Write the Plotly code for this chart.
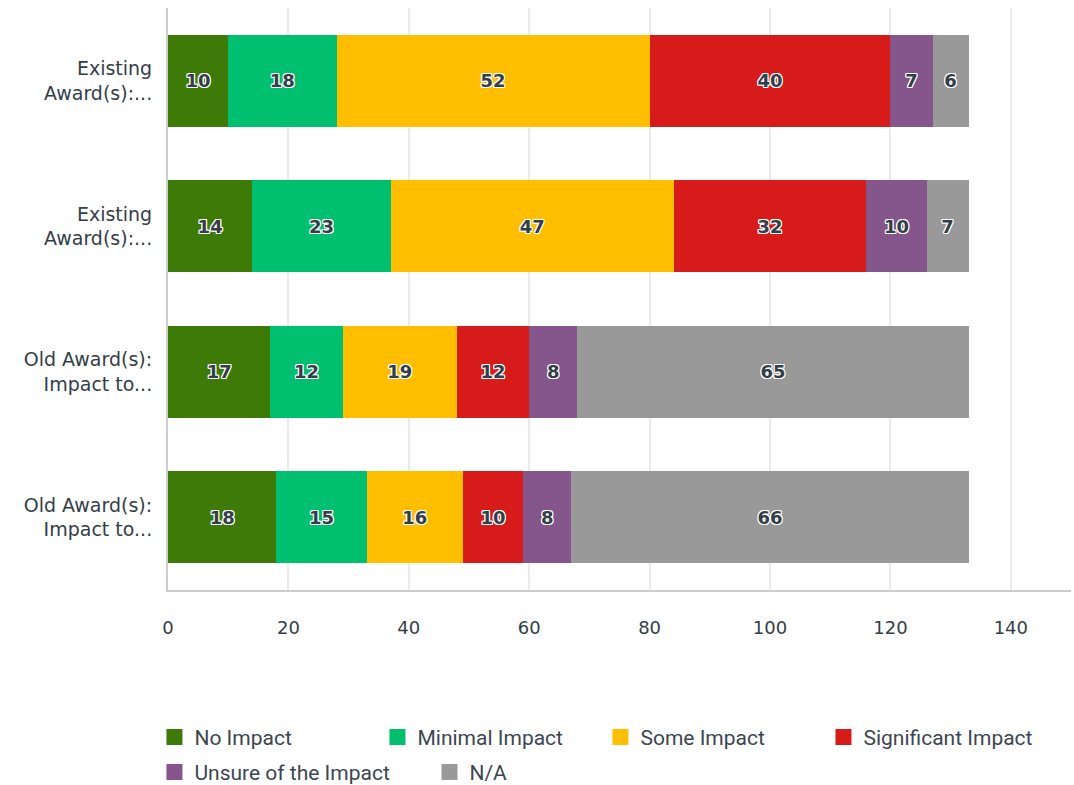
import plotly.graph_objects as go

categories = ["Existing<br>Award(s):...", "Existing<br>Award(s):...",
              "Old Award(s):<br>Impact to...", "Old Award(s):<br>Impact to..."]
series_names = ["No Impact", "Minimal Impact", "Some Impact",
                "Significant Impact", "Unsure of the Impact", "N/A"]
no_impact = [10, 14, 17, 18]
minimal_impact = [18, 23, 12, 15]
some_impact = [52, 47, 19, 16]
significant_impact = [40, 32, 12, 10]
unsure_impact = [7, 10, 8, 8]
na_values = [6, 7, 65, 66]
x_ticks = [0, 20, 40, 60, 80, 100, 120, 140]

series_values = [no_impact, minimal_impact, some_impact,
                 significant_impact, unsure_impact, na_values]
colors = ["#3e7a08", "#00bf6f", "#ffbe00", "#d71b1b", "#84568c", "#999999"]
legend_rows = ["legend", "legend", "legend", "legend", "legend2", "legend2"]

positions = list(range(len(categories)))
text_color = "#333e48"
font_main = "DejaVu Sans"
shadow = "1px 1px 0 #fff, -1px -1px 0 #fff, 1px -1px 0 #fff, -1px 1px 0 #fff, 0 1px 0 #fff, 0 -1px 0 #fff, 1px 0 0 #fff, -1px 0 0 #fff"

fig = go.Figure()
for name, vals, col in zip(series_names, series_values, colors):
    fig.add_trace(go.Bar(
        y=positions, x=vals, name=name, orientation="h",
        marker=dict(color=col, line=dict(width=0)),
        text=[str(v) for v in vals], textposition="inside",
        insidetextanchor="middle", textangle=0, constraintext="none",
        textfont=dict(family=font_main, size=18, color=text_color,
                      weight=700, shadow=shadow),
        width=0.63, hoverinfo="x+name", legendgroup=name, showlegend=False,
    ))
# legend entries with larger square swatches
for name, col, lg in zip(series_names, colors, legend_rows):
    fig.add_trace(go.Scatter(
        x=[None], y=[None], mode="markers", name=name, legendgroup=name,
        marker=dict(symbol="square", size=16, color=col), showlegend=True,
        legend=lg,
    ))

legend_font = dict(family="Roboto", size=21, color="#3c4650")
fig.update_layout(
    width=1074, height=785,
    barmode="stack",
    plot_bgcolor="white", paper_bgcolor="white",
    margin=dict(l=168, r=3, t=8, b=195, autoexpand=False),
    font=dict(family=font_main, color=text_color, size=17),
    legend=dict(orientation="h", x=-0.015, xanchor="left", y=-0.218, yanchor="top",
                font=legend_font, traceorder="normal", itemwidth=30,
                entrywidthmode="pixels", entrywidth=178),
    legend2=dict(orientation="h", x=-0.015, xanchor="left", y=-0.278, yanchor="top",
                 font=legend_font, traceorder="normal", itemwidth=30,
                 entrywidthmode="pixels", entrywidth=230),
    showlegend=True,
    bargap=0.37,
)
fig.update_xaxes(
    range=[0, 150], tickvals=x_ticks, showgrid=True, gridcolor="#ebebeb",
    gridwidth=2, showline=True, linecolor="#cccccc", linewidth=2,
    zeroline=False, ticks="outside", ticklen=20, tickcolor="rgba(0,0,0,0)",
    tickfont=dict(size=18, color=text_color),
)
fig.update_yaxes(
    tickvals=positions, ticktext=categories, range=[3.5, -0.5],
    showgrid=False, showline=True, linecolor="#cccccc", linewidth=2,
    zeroline=False, ticks="outside", ticklen=10, tickcolor="rgba(0,0,0,0)",
    tickfont=dict(size=19, color=text_color),
)

fig.write_html("out.html")
